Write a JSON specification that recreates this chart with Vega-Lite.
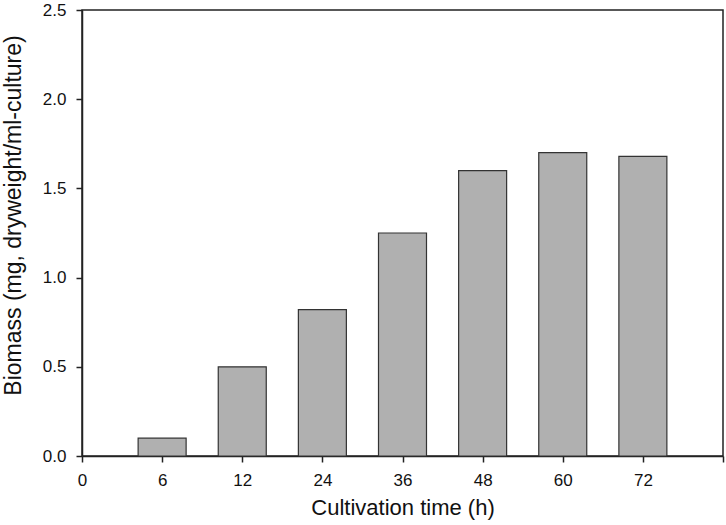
{
  "$schema": "https://vega.github.io/schema/vega-lite/v6.json",
  "autosize": "none",
  "width": 641,
  "height": 446,
  "padding": {"left": 82, "top": 10, "right": 3, "bottom": 69},
  "background": "white",
  "config": {
    "view": {"stroke": "#222222", "strokeWidth": 1.5},
    "font": "Liberation Sans",
    "axis": {
      "labelFont": "Liberation Sans",
      "titleFont": "Liberation Sans",
      "labelColor": "#111111",
      "titleColor": "#111111",
      "domainColor": "#222222",
      "tickColor": "#222222",
      "domainWidth": 1.5,
      "tickWidth": 1.5,
      "tickSize": 6,
      "labelFontSize": 17,
      "titleFontWeight": "normal",
      "grid": false
    }
  },
  "data": {
    "values": [
      {"time": "6", "biomass": 0.1},
      {"time": "12", "biomass": 0.5},
      {"time": "24", "biomass": 0.82},
      {"time": "36", "biomass": 1.25},
      {"time": "48", "biomass": 1.6},
      {"time": "60", "biomass": 1.7},
      {"time": "72", "biomass": 1.68}
    ]
  },
  "mark": {"type": "bar", "width": 48, "fill": "#b0b0b0", "stroke": "#333333", "strokeWidth": 1.2},
  "encoding": {
    "x": {
      "field": "time",
      "type": "ordinal",
      "scale": {"type": "point", "domain": ["0", "6", "12", "24", "36", "48", "60", "72", "end"], "padding": 0},
      "axis": {
        "title": "Cultivation time (h)",
        "titleFontSize": 22,
        "labelAngle": 0,
        "labelPadding": 10,
        "titlePadding": 9,
        "labelExpr": "datum.value == 'end' ? '' : datum.value"
      }
    },
    "y": {
      "field": "biomass",
      "type": "quantitative",
      "scale": {"domain": [0, 2.5], "nice": false},
      "axis": {
        "title": "Biomass (mg, dryweight/ml-culture)",
        "titleFontSize": 23,
        "titleY": 205,
        "values": [0, 0.5, 1, 1.5, 2, 2.5],
        "format": ".1f",
        "labelPadding": 10,
        "titlePadding": 17
      }
    }
  }
}
